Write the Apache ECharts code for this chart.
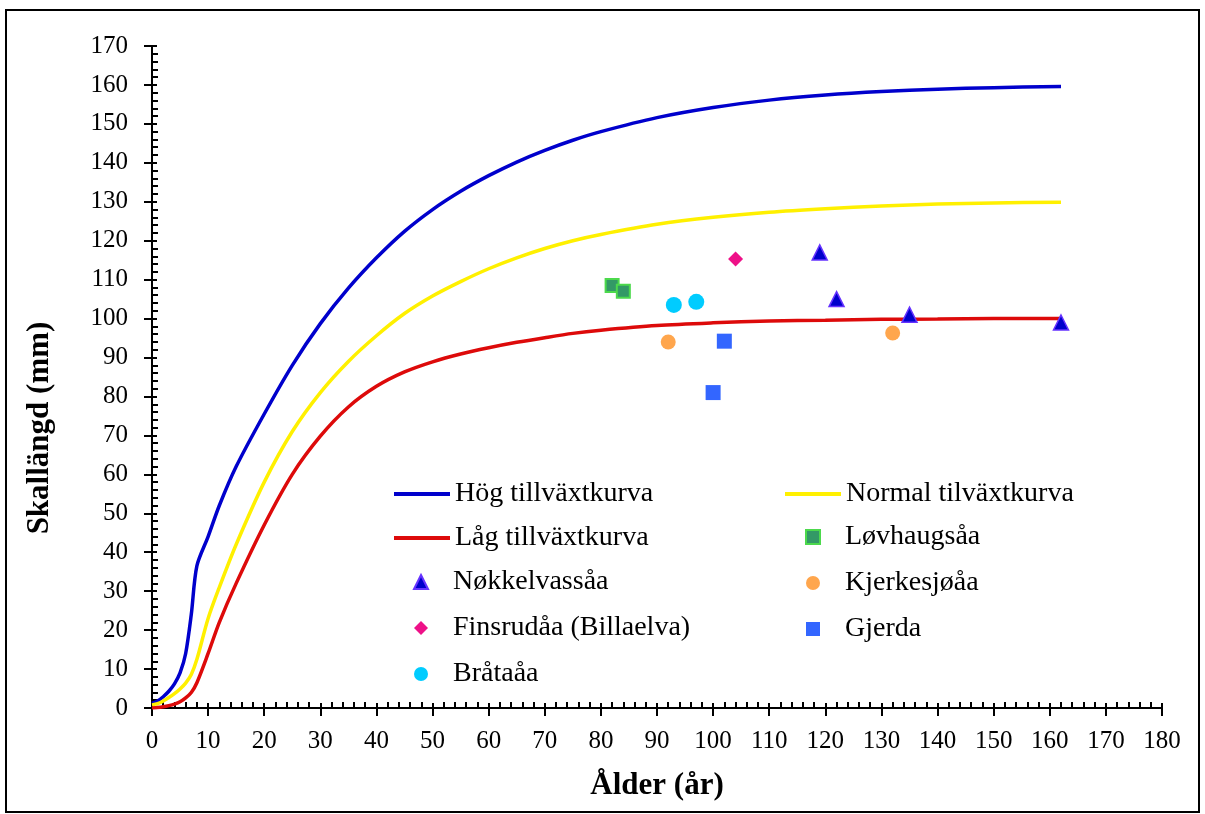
<!DOCTYPE html>
<html>
<head>
<meta charset="utf-8">
<script src="https://cdn.jsdelivr.net/npm/echarts@6/dist/echarts.min.js"></script>
<style>
  html, body { margin: 0; padding: 0; background: #fff; }
  #chart { width: 1205px; height: 814px; }
</style>
</head>
<body>
<div id="chart"></div>
<script>
// Ages (years) at which the growth curves are read
const curveAges = [0, 1, 2, 3, 4, 5, 6, 7, 8, 10, 12, 15, 20, 25, 30, 35, 40, 45, 50, 55, 60, 65, 70, 75, 80, 90, 100, 110, 120, 130, 140, 150, 162];
const hogCurve = [1.2, 1.8, 2.9, 4.3, 6.2, 9, 14, 24, 36.5, 44, 52, 62, 75.5, 88, 98.7, 107.8, 115.6, 122.4, 128, 132.7, 136.7, 140.2, 143.2, 145.8, 148, 151.6, 154.2, 156.1, 157.4, 158.3, 158.9, 159.3, 159.6];
const normalCurve = [0.8, 1.1, 1.8, 2.7, 3.7, 4.9, 6.4, 8.6, 12.5, 23, 31, 42, 58, 71, 81, 89, 95.6, 101.3, 105.8, 109.5, 112.8, 115.6, 118, 120, 121.6, 124.2, 126, 127.3, 128.2, 128.9, 129.4, 129.7, 129.9];
const lagCurve = [0, 0.1, 0.3, 0.6, 1, 1.6, 2.6, 4, 6.5, 14, 22, 32, 47, 60, 69.8, 77.3, 82.6, 86.3, 88.9, 90.9, 92.5, 93.9, 95.1, 96.2, 97, 98.2, 98.9, 99.4, 99.6, 99.8, 99.9, 100, 100];

// Observed sites: age and shell length
const lovhaugAge = [82, 84];
const lovhaugLength = [108.5, 107];
const nokkelAge = [119, 122, 135, 162];
const nokkelLength = [117, 105, 101, 99];
const kjerkeAge = [92, 132];
const kjerkeLength = [94, 96.3];
const finsrudAge = [104];
const finsrudLength = [115.3];
const gjerdaAge = [102, 100];
const gjerdaLength = [94.2, 81];
const brataAge = [93, 97];
const brataLength = [103.5, 104.3];

const xTicks = { min: 0, max: 180, interval: 10 };
const yTicks = { min: 0, max: 170, interval: 10 };

function pairs(xs, ys) {
  const result = [];
  for (let i = 0; i < xs.length; i++) {
    result.push([xs[i], ys[i]]);
  }
  return result;
}

const serif = "'Times New Roman', 'Liberation Serif', serif";

const chart = echarts.init(document.getElementById('chart'), null, { renderer: 'canvas' });

const lineSeries = (name, values, color) => ({
  name: name,
  type: 'line',
  data: pairs(curveAges, values),
  symbol: 'none',
  smooth: 0.3,
  lineStyle: { color: color, width: 3.5 },
  itemStyle: { color: color },
  z: 2
});

const scatterSeries = (name, xs, ys, symbol, size, fill, border, borderWidth) => ({
  name: name,
  type: 'scatter',
  data: pairs(xs, ys),
  symbol: symbol,
  symbolSize: size,
  itemStyle: { color: fill, borderColor: border, borderWidth: borderWidth, opacity: 1 },
  z: 5
});

const markerLegendText = {
  fontFamily: serif,
  fontSize: 28,
  color: '#000',
  padding: [0, 0, 0, 20]
};
const lineLegendText = {
  fontFamily: serif,
  fontSize: 28,
  color: '#000'
};

const option = {
  animation: false,
  backgroundColor: '#fff',
  grid: { left: 152, right: 43, top: 46, bottom: 106 },
  legend: [{
    data: ['Hög tillväxtkurva', 'Låg tillväxtkurva'],
    orient: 'vertical', left: 392, top: 480, padding: 0,
    itemWidth: 56, itemHeight: 14, itemGap: 16,
    itemStyle: { opacity: 0 },
    lineStyle: { width: 4 },
    textStyle: lineLegendText
  }, {
    data: ['Nøkkelvassåa', 'Finsrudåa (Billaelva)', 'Bråtaåa'],
    orient: 'vertical', left: 413, top: 568, padding: 0,
    itemWidth: 14, itemHeight: 14, itemGap: 18,
    textStyle: markerLegendText
  }, {
    data: ['Normal tilväxtkurva'],
    orient: 'vertical', left: 783, top: 480, padding: 0,
    itemWidth: 56, itemHeight: 14,
    itemStyle: { opacity: 0 },
    lineStyle: { width: 4 },
    textStyle: lineLegendText
  }, {
    data: ['Løvhaugsåa', 'Kjerkesjøåa', 'Gjerda'],
    orient: 'vertical', left: 805, top: 523, padding: 0,
    itemWidth: 14, itemHeight: 14, itemGap: 18,
    textStyle: markerLegendText
  }],
  xAxis: [{
    type: 'value',
    min: xTicks.min, max: xTicks.max, interval: xTicks.interval,
    name: 'Ålder (år)',
    nameLocation: 'middle',
    nameGap: 62,
    nameTextStyle: { fontFamily: serif, fontSize: 31, fontWeight: 'bold', color: '#000' },
    axisLine: { lineStyle: { color: '#000', width: 2 } },
    axisTick: { inside: true, length: 5, lineStyle: { color: '#000', width: 2 } },
    minorTick: { show: true, splitNumber: 5, length: 6, lineStyle: { color: '#000', width: 2 } },
    axisLabel: { fontFamily: serif, fontSize: 25, color: '#000', margin: 21 },
    splitLine: { show: false }
  }, {
    type: 'value',
    position: 'bottom',
    min: xTicks.min, max: xTicks.max, interval: xTicks.interval,
    axisLine: { show: false },
    axisTick: { inside: false, length: 8, lineStyle: { color: '#000', width: 2 } },
    axisLabel: { show: false },
    splitLine: { show: false }
  }],
  yAxis: [{
    type: 'value',
    min: yTicks.min, max: yTicks.max, interval: yTicks.interval,
    axisLine: { show: true, lineStyle: { color: '#000', width: 2 } },
    axisTick: { show: true, inside: true, length: 5, lineStyle: { color: '#000', width: 2 } },
    minorTick: { show: true, splitNumber: 5, length: 6, lineStyle: { color: '#000', width: 2 } },
    axisLabel: { fontFamily: serif, fontSize: 25, color: '#000', margin: 24 },
    splitLine: { show: false }
  }, {
    type: 'value',
    position: 'left',
    min: yTicks.min, max: yTicks.max, interval: yTicks.interval,
    axisLine: { show: false },
    axisTick: { show: true, inside: false, length: 8, lineStyle: { color: '#000', width: 2 } },
    axisLabel: { show: false },
    splitLine: { show: false }
  }],
  graphic: [{
    type: 'rect',
    shape: { x: 6, y: 10, width: 1193, height: 802 },
    style: { fill: 'none', stroke: '#000', lineWidth: 2 },
    silent: true
  }, {
    type: 'text',
    x: 40, y: 428,
    rotation: Math.PI / 2,
    style: {
      text: 'Skallängd (mm)',
      fontFamily: serif, fontSize: 31, fontWeight: 'bold', fill: '#000',
      align: 'center', verticalAlign: 'middle'
    }
  }],
  series: [
    lineSeries('Hög tillväxtkurva', hogCurve, '#0000CC'),
    lineSeries('Normal tilväxtkurva', normalCurve, '#FFF000'),
    lineSeries('Låg tillväxtkurva', lagCurve, '#DD0A0A'),
    scatterSeries('Løvhaugsåa', lovhaugAge, lovhaugLength, 'rect', 13, '#339966', '#4CD94C', 2),
    scatterSeries('Nøkkelvassåa', nokkelAge, nokkelLength, 'triangle', 15, '#0000CC', '#6633FF', 1.5),
    scatterSeries('Kjerkesjøåa', kjerkeAge, kjerkeLength, 'circle', 15, '#FFA64D', '#FFA64D', 0),
    scatterSeries('Finsrudåa (Billaelva)', finsrudAge, finsrudLength, 'diamond', 15, '#EE1188', '#EE1188', 0),
    scatterSeries('Gjerda', gjerdaAge, gjerdaLength, 'rect', 15, '#3366FF', '#3366FF', 0),
    scatterSeries('Bråtaåa', brataAge, brataLength, 'circle', 16, '#00CCFF', '#00CCFF', 0)
  ]
};

chart.setOption(option);
</script>
</body>
</html>
